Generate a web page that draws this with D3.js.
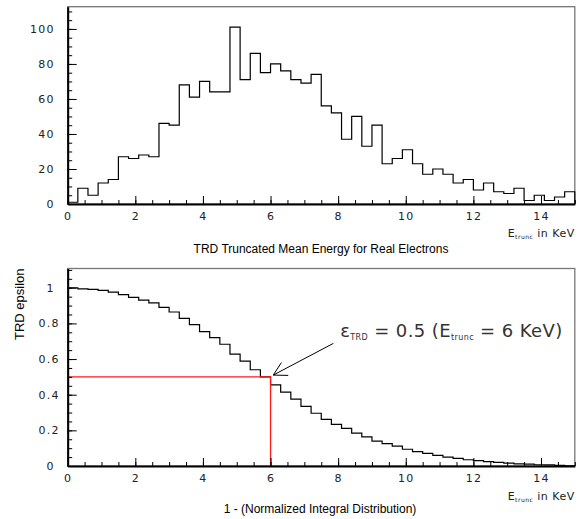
<!DOCTYPE html>
<html>
<head>
<meta charset="utf-8">
<script src="https://cdn.jsdelivr.net/npm/d3@7"></script>
<style>
  html, body { margin: 0; padding: 0; background: #fff; }
  svg { display: block; }
</style>
</head>
<body>
<svg id="chart" width="578" height="519"></svg>
<script>
// ---------- data ----------
const binLow = [0.0,0.3,0.6,0.9,1.2,1.5,1.8,2.1,2.4,2.7,3.0,3.3,3.6,3.9,4.2,4.5,4.8,5.1,5.4,5.7,
                6.0,6.3,6.6,6.9,7.2,7.5,7.8,8.1,8.4,8.7,9.0,9.3,9.6,9.9,10.2,10.5,10.8,11.1,11.4,11.7,
                12.0,12.3,12.6,12.9,13.2,13.5,13.8,14.1,14.4,14.7];
const binWidth = 0.3;
const counts = [1,9,5,12,14,27,26,28,27,46,45,68,61,70,64,64,101,71,86,75,
                80,76,71,69,74,56,52,37,50,33,45,23,26,31,23,17,20,17,12,14,
                8,12,7,6,9,2,5,2,4,7];
const epsilon = [1.000,0.994,0.991,0.985,0.976,0.961,0.946,0.931,0.915,0.890,
                 0.864,0.828,0.793,0.754,0.720,0.683,0.628,0.588,0.540,0.500,
                 0.455,0.415,0.375,0.335,0.296,0.262,0.233,0.211,0.184,0.163,
                 0.139,0.125,0.111,0.094,0.081,0.071,0.060,0.050,0.043,0.035,
                 0.030,0.024,0.020,0.016,0.012,0.010,0.007,0.006,0.004,0.001];
const xTicks = [0,2,4,6,8,10,12,14];
const xMinor = d3.range(0, 15.001, 0.5);
const topYTicks = [0,20,40,60,80,100];
const topYMinor = d3.range(0, 111, 5);
const botYTicks = [0,0.2,0.4,0.6,0.8,1];
const botYMinor = d3.range(0, 1.101, 0.05);
const workingPoint = {x: 6, y: 0.5};
const arrowTip = {x: 6.08, y: 0.51};
const arrowTail = {x: 7.86, y: 0.688};
const labelPos = {x: 8.06, y: 0.723};

// ---------- layout ----------
const svg = d3.select("#chart");
const X0 = 67.7, X1 = 574.8;
const topPlot = {yBottom: 204, yTop: 6.7, yMax: 112.7};
const botPlot = {yBottom: 466, yTop: 268.5, yMax: 1.108};

const x = d3.scaleLinear().domain([0, 15]).range([X0, X1]);
const yTop = d3.scaleLinear().domain([0, topPlot.yMax]).range([topPlot.yBottom, topPlot.yTop]);
const yBot = d3.scaleLinear().domain([0, botPlot.yMax]).range([botPlot.yBottom, botPlot.yTop]);

const tickFont = "'DejaVu Sans', sans-serif";
const titleFont = "'Liberation Sans', Arial, sans-serif";

function stepPoints(values, startAtZero) {
  const pts = [];
  if (startAtZero) pts.push([0, 0]);
  values.forEach((v, i) => {
    pts.push([binLow[i], v]);
    pts.push([binLow[i] + binWidth, v]);
  });
  pts.push([15, 0]);
  return pts;
}

function frame(plot) {
  svg.append("rect")
    .attr("x", X0).attr("y", plot.yTop)
    .attr("width", X1 - X0).attr("height", plot.yBottom - plot.yTop)
    .attr("fill", "none").attr("stroke", "#777").attr("stroke-width", 1.3);
}

function axes(yScale, plot, yTicks, yMinor, yFmt) {
  const gx = svg.append("g").attr("transform", `translate(0,${plot.yBottom})`);
  gx.call(d3.axisBottom(x).tickValues(xMinor).tickSizeInner(-4).tickSizeOuter(0).tickFormat(""));
  gx.call(g => g.select(".domain").remove());
  const gx2 = svg.append("g").attr("transform", `translate(0,${plot.yBottom})`);
  gx2.call(d3.axisBottom(x).tickValues(xTicks).tickSizeInner(-8).tickSizeOuter(0).tickPadding(8).tickFormat(d3.format("d")));
  gx2.select(".domain").attr("stroke-width", 2);
  const gy = svg.append("g").attr("transform", `translate(${X0},0)`);
  gy.call(d3.axisLeft(yScale).tickValues(yMinor).tickSizeInner(-4.5).tickSizeOuter(0).tickFormat(""));
  gy.call(g => g.select(".domain").remove());
  const gy2 = svg.append("g").attr("transform", `translate(${X0},0)`);
  gy2.call(d3.axisLeft(yScale).tickValues(yTicks).tickSizeInner(-9).tickSizeOuter(0).tickPadding(13).tickFormat(yFmt));
  gy2.select(".domain").attr("stroke-width", 2);
  [gx, gx2, gy, gy2].forEach(g => {
    g.selectAll("line").attr("stroke", "#000").attr("stroke-width", 1);
    g.selectAll("text").attr("font-family", tickFont).attr("font-size", 11)
      .attr("letter-spacing", 1.2).attr("fill", "#222");
  });
  return gy2;
}

function xTitle(plot, baselineOffset) {
  const t = svg.append("text")
    .attr("x", X1).attr("y", plot.yBottom + baselineOffset)
    .attr("text-anchor", "end")
    .attr("font-family", tickFont).attr("font-size", 11).attr("letter-spacing", 0.5)
    .attr("fill", "#222");
  t.append("tspan").text("E");
  t.append("tspan").attr("font-size", 6).attr("dy", 2).text("trunc");
  t.append("tspan").attr("dy", -2).text(" in KeV");
}

// ---------- top histogram ----------
frame(topPlot);
const lineTop = d3.line().x(d => x(d[0])).y(d => yTop(d[1]));
svg.append("path")
  .attr("d", lineTop(stepPoints(counts, true)))
  .attr("fill", "none").attr("stroke", "#000").attr("stroke-width", 1.2);
axes(yTop, topPlot, topYTicks, topYMinor, d3.format("d"));
xTitle(topPlot, 33);

svg.append("text")
  .attr("x", 321).attr("y", 253)
  .attr("text-anchor", "middle")
  .attr("font-family", titleFont).attr("font-size", 12).attr("fill", "#000")
  .text("TRD Truncated Mean Energy for Real Electrons");

// ---------- bottom efficiency ----------
frame(botPlot);
const lineBot = d3.line().x(d => x(d[0])).y(d => yBot(d[1]));
svg.append("path")
  .attr("d", lineBot(stepPoints(epsilon, false)))
  .attr("fill", "none").attr("stroke", "#000").attr("stroke-width", 1.2);

svg.append("path")
  .attr("d", lineBot([[0, workingPoint.y], [workingPoint.x, workingPoint.y], [workingPoint.x, 0]]))
  .attr("fill", "none").attr("stroke", "#ff1a1a").attr("stroke-width", 1.3);

const gyb = axes(yBot, botPlot, botYTicks, botYMinor, d => d === 0 || d === 1 ? d3.format("d")(d) : d3.format(".1f")(d));
gyb.selectAll(".tick text").attr("dx", d => (d === 0 || d === 1) ? 0 : 5);
xTitle(botPlot, 34);

svg.append("text")
  .attr("transform", `translate(24,${botPlot.yTop}) rotate(-90)`)
  .attr("text-anchor", "end")
  .attr("font-family", titleFont).attr("font-size", 13).attr("fill", "#000")
  .text("TRD epsilon");

svg.append("text")
  .attr("x", 320).attr("y", 513)
  .attr("text-anchor", "middle")
  .attr("font-family", titleFont).attr("font-size", 12).attr("fill", "#000")
  .text("1 - (Normalized Integral Distribution)");

// arrow
const tx = x(arrowTip.x), ty = yBot(arrowTip.y);
const sx = x(arrowTail.x), sy = yBot(arrowTail.y);
const ang = Math.atan2(sy - ty, sx - tx);
const headLen = 15, headAng = Math.PI / 6.2;
svg.append("line").attr("x1", sx).attr("y1", sy).attr("x2", tx).attr("y2", ty)
  .attr("stroke", "#000").attr("stroke-width", 1);
svg.append("path")
  .attr("d", `M${tx + headLen*Math.cos(ang - headAng)},${ty + headLen*Math.sin(ang - headAng)} L${tx},${ty} L${tx + headLen*Math.cos(ang + headAng)},${ty + headLen*Math.sin(ang + headAng)}`)
  .attr("fill", "none").attr("stroke", "#000").attr("stroke-width", 1);

// annotation
const ann = svg.append("text")
  .attr("x", x(labelPos.x)).attr("y", yBot(labelPos.y))
  .attr("font-family", tickFont).attr("font-size", 18).attr("letter-spacing", 0.4)
  .attr("fill", "#333");
ann.append("tspan").text("ε");
ann.append("tspan").attr("font-size", 8).attr("dy", 3).text("TRD");
ann.append("tspan").attr("dy", -3).text(" = 0.5 (E");
ann.append("tspan").attr("font-size", 8).attr("dy", 3).text("trunc");
ann.append("tspan").attr("dy", -3).text(" = 6 KeV)");
</script>
</body>
</html>
